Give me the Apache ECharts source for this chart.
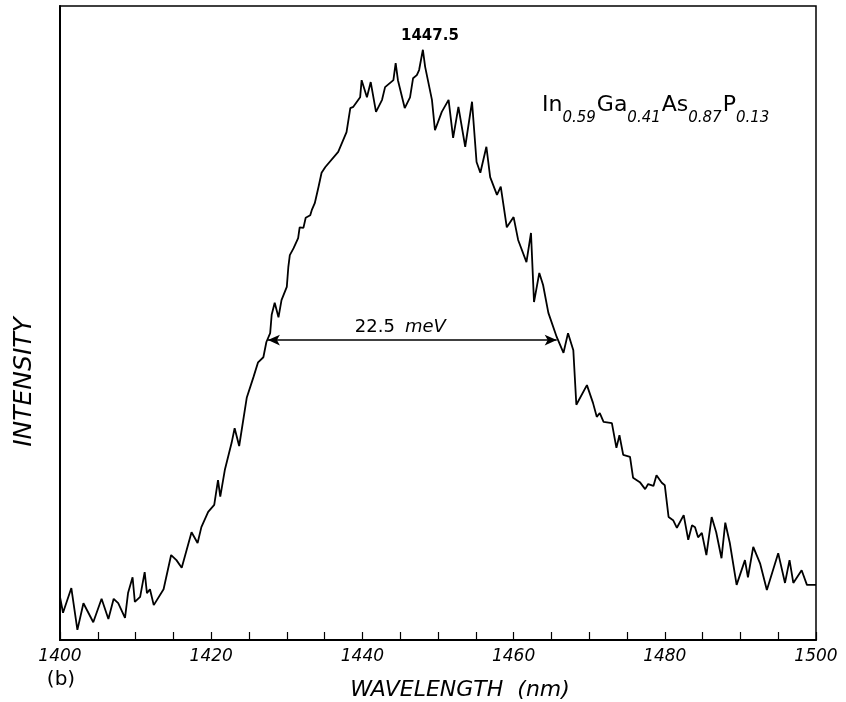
<!DOCTYPE html>
<html>
<head>
<meta charset="utf-8">
<style>
  html, body { margin: 0; padding: 0; background: #fff; }
  #chart { width: 846px; height: 702px; }
</style>
<script src="https://cdn.jsdelivr.net/npm/echarts@6/dist/echarts.min.js"></script>
</head>
<body>
<div id="chart"></div>
<script>
// wavelength (nm)
var wavelength = [
  1400.0, 1400.4, 1401.5, 1402.3, 1403.1, 1404.4, 1405.5, 1406.4, 1407.1, 1407.7,
  1408.6, 1409.0, 1409.6, 1409.9, 1410.6, 1411.2, 1411.5, 1411.9, 1412.4, 1413.7,
  1414.7, 1415.4, 1416.1, 1417.4, 1418.2, 1418.7, 1419.6, 1420.4, 1420.9, 1421.2,
  1421.8, 1422.7, 1423.1, 1423.7, 1424.7, 1425.6, 1426.2, 1426.9, 1427.3, 1427.8,
  1428.0, 1428.4, 1428.9, 1429.3, 1430.0, 1430.2, 1430.4, 1430.9, 1431.5, 1431.7,
  1432.2, 1432.5, 1433.1, 1433.3, 1433.7, 1434.2, 1434.6, 1435.1, 1436.8, 1437.9,
  1438.4, 1438.8, 1439.7, 1439.9, 1440.6, 1441.1, 1441.8, 1442.6, 1443.0, 1444.1,
  1444.4, 1444.7, 1445.6, 1446.3, 1446.7, 1447.2, 1447.5, 1448.0, 1448.3, 1449.2,
  1449.6, 1450.5, 1451.4, 1452.0, 1452.7, 1453.6, 1454.5, 1455.1, 1455.6, 1456.4,
  1456.9, 1457.8, 1458.3, 1459.1, 1460.0, 1460.6, 1461.7, 1462.3, 1462.7, 1463.4,
  1463.9, 1464.6, 1465.7, 1466.6, 1467.2, 1467.9, 1468.3, 1469.7, 1470.5, 1471.0,
  1471.4, 1471.9, 1473.0, 1473.6, 1474.0, 1474.5, 1475.4, 1475.8, 1476.7, 1477.4,
  1477.8, 1478.5, 1478.9, 1479.6, 1480.0, 1480.5, 1481.1, 1481.6, 1482.5, 1483.1,
  1483.6, 1484.0, 1484.4, 1484.9, 1485.5, 1486.2, 1486.8, 1487.5, 1488.0, 1488.6,
  1489.5, 1490.6, 1491.0, 1491.7, 1492.6, 1493.5, 1495.0, 1495.9, 1496.5, 1497.0,
  1498.1, 1498.8, 1500.0
];

// intensity (arbitrary units, 0-100)
var intensity = [
  6.8, 4.3, 8.2, 1.6, 5.8, 2.8, 6.5, 3.3, 6.5, 5.8,
  3.5, 7.4, 9.9, 6.0, 6.8, 10.7, 7.4, 8.0, 5.5, 8.0,
  13.4, 12.6, 11.4, 17.0, 15.3, 17.8, 20.2, 21.3, 25.2, 22.6,
  26.8, 31.1, 33.4, 30.6, 38.2, 41.5, 43.8, 44.6, 47.0, 48.4,
  51.3, 53.2, 50.9, 53.6, 55.7, 58.8, 60.7, 61.8, 63.4, 65.1,
  65.0, 66.6, 67.0, 67.8, 68.9, 71.5, 73.7, 74.6, 77.0, 80.1,
  83.9, 84.1, 85.6, 88.3, 85.6, 88.0, 83.3, 85.2, 87.2, 88.3,
  91.0, 88.3, 83.9, 85.6, 88.6, 89.1, 89.9, 93.1, 90.4, 85.2,
  80.4, 83.3, 85.2, 79.2, 84.1, 77.8, 84.9, 75.4, 73.7, 77.8,
  73.0, 70.2, 71.5, 65.1, 66.7, 63.1, 59.6, 64.2, 53.3, 57.9,
  56.0, 51.6, 47.8, 45.3, 48.4, 45.7, 37.1, 40.2, 37.4, 35.2,
  35.8, 34.4, 34.2, 30.3, 32.3, 29.2, 28.9, 25.6, 24.9, 23.8,
  24.6, 24.3, 26.0, 24.8, 24.4, 19.4, 18.9, 17.7, 19.7, 15.8,
  18.1, 17.8, 16.2, 16.9, 13.4, 19.4, 17.0, 12.9, 18.5, 15.3,
  8.7, 12.6, 9.9, 14.7, 12.1, 7.9, 13.7, 9.0, 12.6, 9.0,
  11.0, 8.7, 8.7
];

var xTickLabels = [1400, 1420, 1440, 1460, 1480, 1500];

// peak and FWHM annotation
var peakPoint = [1448.0, 93.1];
var peakText = '1447.5';
var fwhmLevel = 47.3;
var fwhmLeft = 1427.5;
var fwhmRight = 1465.7;

// composition label: element / subscript pairs
var elements = ['In', 'Ga', 'As', 'P'];
var fractions = ['0.59', '0.41', '0.87', '0.13'];

var chart = echarts.init(document.getElementById('chart'));

var lineData = [];
for (var i = 0; i < wavelength.length; i++) {
  lineData.push([wavelength[i], intensity[i]]);
}

var fontFam = '"DejaVu Sans", sans-serif';

// lay out the formula piece by piece so subscripts sit below the baseline
var ctx = document.createElement('canvas').getContext('2d');
var formulaParts = [];
var fx = 542;
for (var k = 0; k < elements.length; k++) {
  ctx.font = 'normal 22px "DejaVu Sans"';
  formulaParts.push({
    type: 'text', x: fx, y: 105,
    style: { text: elements[k], fontFamily: fontFam, fontSize: 22, fill: '#000', textVerticalAlign: 'middle' }
  });
  fx += ctx.measureText(elements[k]).width;
  ctx.font = 'italic 15px "DejaVu Sans"';
  formulaParts.push({
    type: 'text', x: fx, y: 118,
    style: { text: fractions[k], fontFamily: fontFam, fontSize: 15, fontStyle: 'italic', fill: '#000', textVerticalAlign: 'middle' }
  });
  fx += ctx.measureText(fractions[k]).width + 1;
}

var option = {
  animation: false,
  backgroundColor: '#fff',
  grid: {
    left: 60, right: 30, top: 6, bottom: 62,
    show: true,
    borderColor: '#000',
    borderWidth: 1.5
  },
  xAxis: {
    type: 'value',
    min: 1400,
    max: 1500,
    interval: 5,
    axisLine: { lineStyle: { color: '#000', width: 2 } },
    axisTick: { inside: true, length: 8, lineStyle: { color: '#000', width: 1.2 } },
    splitLine: { show: false },
    axisLabel: {
      margin: 8,
      color: '#000',
      fontFamily: fontFam,
      fontStyle: 'italic',
      fontSize: 17,
      formatter: function (v) {
        return xTickLabels.indexOf(v) >= 0 ? String(v) : '';
      }
    }
  },
  yAxis: {
    type: 'value',
    min: 0,
    max: 100,
    axisLine: { show: true, lineStyle: { color: '#000', width: 2 } },
    axisTick: { show: false },
    axisLabel: { show: false },
    splitLine: { show: false }
  },
  series: [{
    type: 'line',
    data: lineData,
    symbol: 'none',
    lineStyle: { color: '#000', width: 1.8 },
    markPoint: {
      symbol: 'circle',
      symbolSize: 0,
      data: [{ coord: peakPoint }],
      label: {
        show: true,
        position: 'top',
        distance: 6,
        offset: [7, 0],
        formatter: peakText,
        color: '#000',
        fontFamily: fontFam,
        fontWeight: 'bold',
        fontSize: 15
      }
    },
    markLine: {
      silent: true,
      symbol: ['arrow', 'arrow'],
      symbolSize: [8, 12],
      lineStyle: { color: '#000', width: 1.5, type: 'solid' },
      label: {
        show: true,
        position: 'middle',
        distance: 4,
        offset: [-12, 0],
        formatter: '{a|22.5}   {b|meV}',
        rich: {
          a: { color: '#000', fontFamily: fontFam, fontSize: 18 },
          b: { color: '#000', fontFamily: fontFam, fontSize: 18, fontStyle: 'italic' }
        }
      },
      data: [[
        { coord: [fwhmLeft, fwhmLevel] },
        { coord: [fwhmRight, fwhmLevel] }
      ]]
    }
  }],
  graphic: formulaParts.concat([
    {
      type: 'text',
      x: 460,
      y: 690,
      style: {
        text: 'WAVELENGTH  (nm)',
        fontFamily: fontFam,
        fontStyle: 'italic',
        fontSize: 22,
        fill: '#000',
        textAlign: 'center',
        textVerticalAlign: 'middle'
      }
    },
    {
      type: 'text',
      x: 61,
      y: 680,
      style: {
        text: '(b)',
        fontFamily: fontFam,
        fontSize: 20,
        fill: '#000',
        textAlign: 'center',
        textVerticalAlign: 'middle'
      }
    },
    {
      type: 'text',
      x: 24,
      y: 382,
      rotation: Math.PI / 2,
      style: {
        text: 'INTENSITY',
        fontFamily: fontFam,
        fontStyle: 'italic',
        fontSize: 25,
        fill: '#000',
        textAlign: 'center',
        textVerticalAlign: 'middle'
      }
    }
  ])
};

chart.setOption(option);
</script>
</body>
</html>
